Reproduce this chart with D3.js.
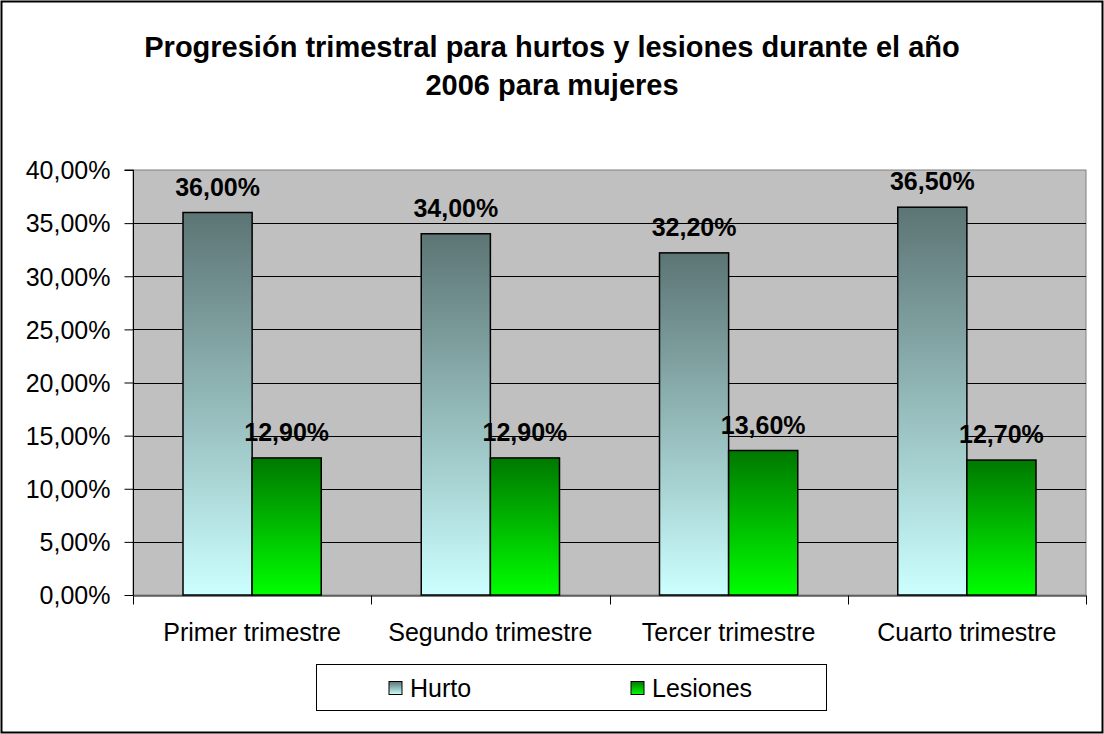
<!DOCTYPE html>
<html>
<head>
<meta charset="utf-8">
<script src="https://cdn.jsdelivr.net/npm/d3@7"></script>
<style>
  body { margin: 0; background: #fff; }
  text { font-family: "Liberation Sans", Arial, sans-serif; }
</style>
</head>
<body>
<div class="canvas"></div>
<script>
// chart data
const categories = ['Primer trimestre', 'Segundo trimestre', 'Tercer trimestre', 'Cuarto trimestre'];
const seriesNames = ['Hurto', 'Lesiones'];
const hurto = [36.0, 34.0, 32.2, 36.5];
const lesiones = [12.9, 12.9, 13.6, 12.7];
const yTicks = [0, 5, 10, 15, 20, 25, 30, 35, 40];
const titleLines = ['Progresión trimestral para hurtos y lesiones durante el año', '2006 para mujeres'];

const dims = { width: 1104, height: 734 };
const plot = { left: 133, top: 170, right: 1086, bottom: 595 };

const fmt = v => v.toFixed(2).replace('.', ',') + '%';

const svg = d3
  .select('.canvas')
  .append('svg')
  .attr('width', dims.width)
  .attr('height', dims.height);

// gradients for the two series
const defs = svg.append('defs');
const grads = [
  { id: 'g-hurto', top: '#5c7474', bottom: '#ccffff' },
  { id: 'g-lesiones', top: '#007800', bottom: '#00ff00' }
];
grads.forEach(g => {
  const lg = defs
    .append('linearGradient')
    .attr('id', g.id)
    .attr('x1', 0).attr('y1', 0)
    .attr('x2', 0).attr('y2', 1);
  lg.append('stop').attr('offset', '0%').attr('stop-color', g.top);
  lg.append('stop').attr('offset', '100%').attr('stop-color', g.bottom);
});

// outer frame
svg
  .append('rect')
  .attr('x', 1.5).attr('y', 1.5)
  .attr('width', dims.width - 3).attr('height', dims.height - 3)
  .attr('fill', '#fff')
  .attr('stroke', '#000')
  .attr('stroke-width', 2);

// title
svg
  .append('text')
  .attr('text-anchor', 'middle')
  .attr('font-size', 29)
  .attr('font-weight', 'bold')
  .selectAll('tspan')
  .data(titleLines)
  .enter()
  .append('tspan')
  .attr('x', 552)
  .attr('y', (d, i) => 57 + i * 38)
  .text(d => d);

// scales
const x0 = d3.scaleBand().domain(categories).range([plot.left, plot.right]).padding(0);
const x1 = d3
  .scaleBand()
  .domain(seriesNames)
  .range([50, x0.bandwidth() - 50])
  .padding(0);
const y = d3.scaleLinear().domain([0, 40]).range([plot.bottom, plot.top]);

// plot area
svg
  .append('rect')
  .attr('x', plot.left).attr('y', plot.top)
  .attr('width', plot.right - plot.left).attr('height', plot.bottom - plot.top)
  .attr('fill', '#c0c0c0')
  .attr('stroke', '#808080')
  .attr('stroke-width', 1);

// gridlines
svg
  .append('g')
  .selectAll('line')
  .data(yTicks.filter(t => t > 0 && t < 40))
  .enter()
  .append('line')
  .attr('x1', plot.left).attr('x2', plot.right)
  .attr('y1', d => Math.round(y(d)) + 0.5)
  .attr('y2', d => Math.round(y(d)) + 0.5)
  .attr('stroke', '#000')
  .attr('stroke-width', 1);

// y axis
const yAxis = d3
  .axisLeft(y)
  .tickValues(yTicks)
  .tickSize(9)
  .tickPadding(14)
  .tickFormat(fmt);
const yg = svg.append('g').attr('transform', `translate(${plot.left + 0.5},0)`).call(yAxis);
yg.selectAll('text').attr('font-size', 25).attr('fill', '#000').attr('dy', '0.35em').style('font-family', '"Liberation Sans", Arial, sans-serif');
yg.selectAll('line,path').attr('stroke', '#000');
yg.select('.domain').attr('d', `M-9,${plot.top}H0V${plot.bottom}`);

// x axis
const xAxis = d3.axisBottom(x0).tickSize(0).tickPadding(28);
const xg = svg.append('g').attr('transform', `translate(0,${plot.bottom + 0.5})`).call(xAxis);
xg.selectAll('text').attr('font-size', 25).attr('fill', '#000').style('font-family', '"Liberation Sans", Arial, sans-serif');
xg.select('.domain').attr('stroke', '#000');
// category separator ticks
xg.selectAll('.sep')
  .data(d3.range(categories.length + 1))
  .enter()
  .append('line')
  .attr('class', 'sep')
  .attr('x1', i => Math.round(plot.left + i * x0.bandwidth()) + 0.5)
  .attr('x2', i => Math.round(plot.left + i * x0.bandwidth()) + 0.5)
  .attr('y1', 0).attr('y2', 9)
  .attr('stroke', '#000');

// bars
const rows = categories.map((c, i) => ({ cat: c, values: [hurto[i], lesiones[i]] }));
const groups = svg
  .append('g')
  .selectAll('g')
  .data(rows)
  .enter()
  .append('g')
  .attr('transform', d => `translate(${x0(d.cat)},0)`);

groups
  .selectAll('rect')
  .data(d => d.values.map((v, j) => ({ name: seriesNames[j], value: v, j })))
  .enter()
  .append('rect')
  .attr('x', d => x1(d.name))
  .attr('y', d => y(d.value))
  .attr('width', x1.bandwidth())
  .attr('height', d => plot.bottom - y(d.value))
  .attr('fill', d => `url(#${grads[d.j].id})`)
  .attr('stroke', '#000')
  .attr('stroke-width', 1.5);

// data labels
groups
  .selectAll('.lbl')
  .data(d => d.values.map((v, j) => ({ name: seriesNames[j], value: v })))
  .enter()
  .append('text')
  .attr('class', 'lbl')
  .attr('x', d => x1(d.name) + x1.bandwidth() / 2)
  .attr('y', d => y(d.value) - 17)
  .attr('text-anchor', 'middle')
  .attr('font-size', 25)
  .attr('font-weight', 'bold')
  .text(d => fmt(d.value));

// legend
const legend = svg.append('g');
legend
  .append('rect')
  .attr('x', 316.5).attr('y', 664.5)
  .attr('width', 510).attr('height', 46)
  .attr('fill', '#fff')
  .attr('stroke', '#000');

const legendX = [389, 631];
const items = legend
  .selectAll('.item')
  .data(seriesNames)
  .enter()
  .append('g')
  .attr('class', 'item')
  .attr('transform', (d, i) => `translate(${legendX[i]},681.5)`);
items
  .append('rect')
  .attr('width', 13).attr('height', 13)
  .attr('fill', (d, i) => `url(#${grads[i].id})`)
  .attr('stroke', '#000')
  .attr('stroke-width', 1);
items
  .append('text')
  .attr('x', 21)
  .attr('y', 15)
  .attr('font-size', 25)
  .text(d => d);
</script>
</body>
</html>
